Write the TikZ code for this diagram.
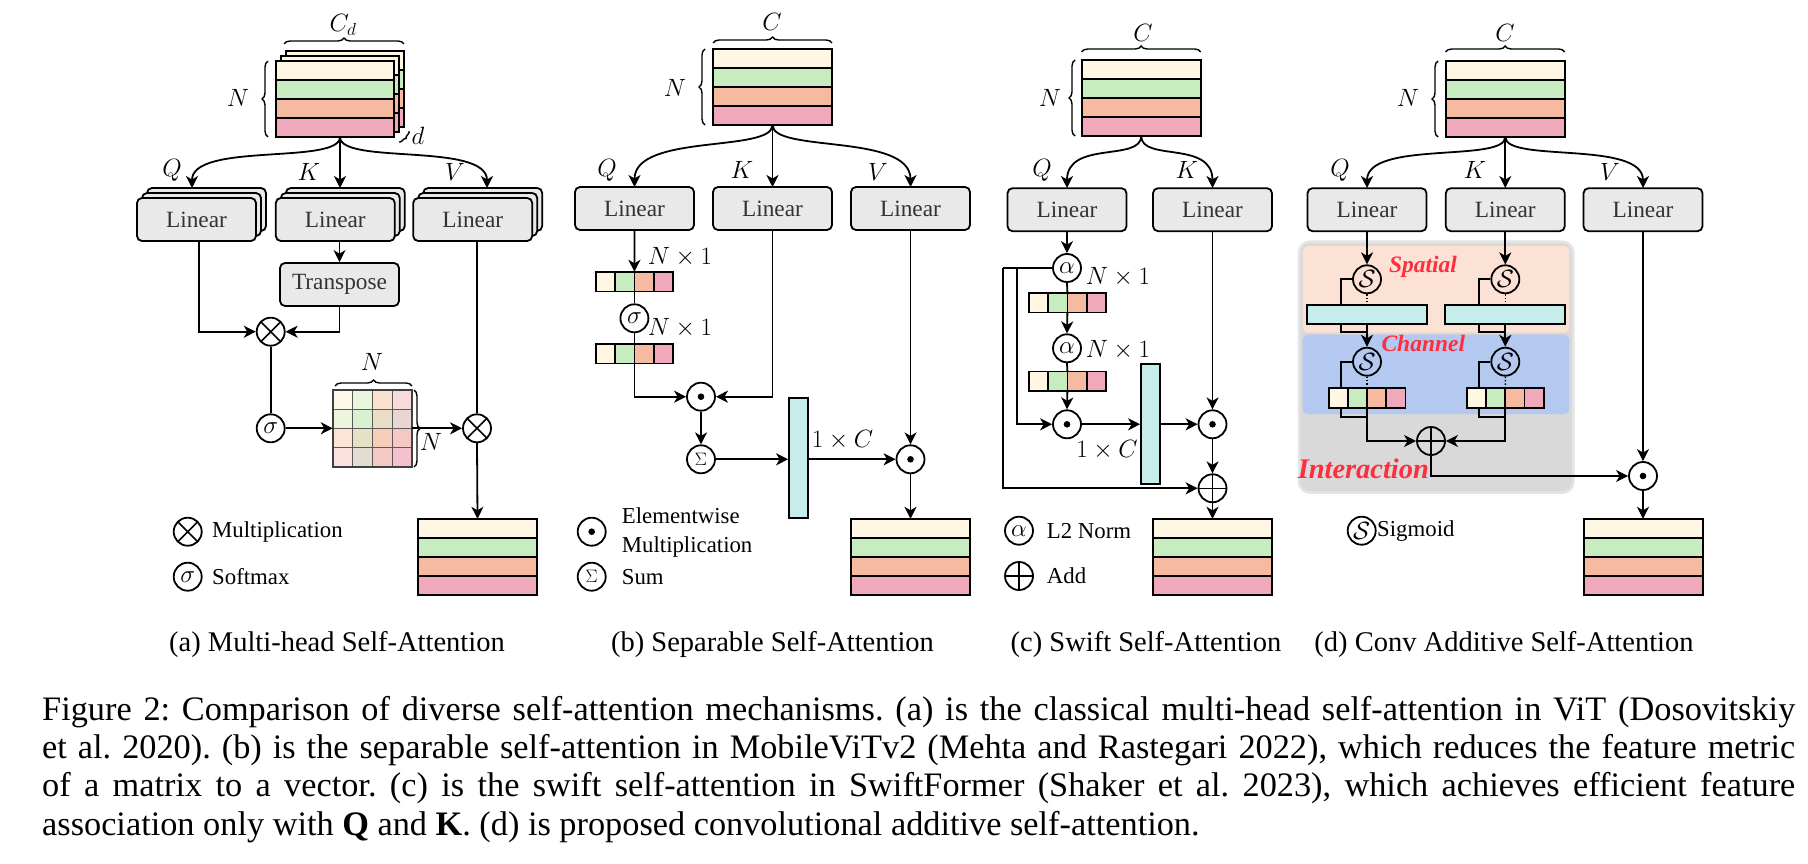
\RequirePackage{fix-cm}
\documentclass[tikz,border=0pt]{standalone}
\usepackage{fontspec}
\setmainfont{Liberation Serif}
\usetikzlibrary{arrows.meta,decorations.pathreplacing,calc}
\definecolor{rowA}{HTML}{FFF6E3}
\definecolor{rowB}{HTML}{C7ECC0}
\definecolor{rowC}{HTML}{F5BA9F}
\definecolor{rowD}{HTML}{EFA9BB}
\definecolor{barcyan}{HTML}{C6ECEB}
\definecolor{boxgray}{HTML}{E9E9E9}
\definecolor{spbg}{HTML}{FCE1D5}
\definecolor{chbg}{HTML}{B4C9F0}
\definecolor{inbg}{HTML}{D9D9D9}
\definecolor{inedge}{HTML}{E4E4E4}
\definecolor{labred}{HTML}{FF2E3E}
\newcommand\lbxfont{\fontsize{23.3}{28}\selectfont}
\newcommand\mathlbl{\fontsize{25}{30}\selectfont}
\newcommand\lgdfont{\fontsize{22.8}{28.7}\selectfont}
\newcommand\subcapfont{\fontsize{28.5}{34}\selectfont}
\newcommand\capfont{\fontsize{34.3}{38}\selectfont\frenchspacing}
\newcommand\redfont{\fontsize{23.5}{28}\selectfont\bfseries\itshape}
\newcommand\redbigfont{\fontsize{28.4}{34}\selectfont\bfseries\itshape}
\newcommand\fstack[4]{%
  \foreach \cc [count=\ii from 0] in {rowA,rowB,rowC,rowD}
    \filldraw[fill=\cc,line width=2pt] (#2,#3+19*\ii) rectangle ++(#4,19);
  \node[inner sep=0pt,minimum width=#4pt,minimum height=76pt] (#1) at (#2+#4/2,#3+38) {};
}
\newcommand\fvec[3]{%
  \foreach \cc [count=\ii from 0] in {rowA,rowB,rowC,rowD}
    \filldraw[fill=\cc,line width=1.8pt] (#2+19.2*\ii,#3) rectangle ++(19.2,19.5);
  \node[inner sep=0pt,minimum width=76.8pt,minimum height=19.5pt] (#1) at (#2+38.4,#3+9.75) {};
}
\begin{document}
\begin{tikzpicture}[x=1pt,y=-1pt,
  ln/.style={line width=1.8pt},
  arr/.style={line width=1.8pt,-{Stealth[length=12pt,width=12pt,inset=3.5pt]}},
  lbox/.style={draw,line width=1.8pt,rounded corners=5pt,fill=boxgray,minimum width=119pt,minimum height=43pt,inner sep=0pt,font=\lbxfont,text=black!80},
  op/.style={circle,draw,line width=1.8pt,minimum size=28pt,inner sep=0pt,font=\mathlbl},
  mulop/.style={op,path picture={\draw[line width=1.6pt] (path picture bounding box.north west) -- (path picture bounding box.south east) (path picture bounding box.north east) -- (path picture bounding box.south west);}},
  addop/.style={op,path picture={\draw[line width=1.6pt] (path picture bounding box.north) -- (path picture bounding box.south) (path picture bounding box.west) -- (path picture bounding box.east);}},
  dotop/.style={op,path picture={\fill (path picture bounding box.center) circle (3.3pt);}},
  brc/.style={decorate,decoration={brace,amplitude=6pt},line width=1.4pt},
  ml/.style={font=\mathlbl,inner sep=0pt},
  lg/.style={font=\lgdfont,inner sep=0pt,anchor=west},
  bar/.style={draw,line width=1.8pt,fill=barcyan,inner sep=0pt},
  dotl/.style={line width=1.4pt,dotted},
  redl/.style={text=labred,font=\redfont,inner sep=0pt},
]
\useasboundingbox (0,0) rectangle (1808,864);
\fill[white] (0,0) rectangle (1808,864);

%%%%%%%%%%%%%%%% (a) %%%%%%%%%%%%%%%%
\fstack{sa3}{285.7}{51}{118.3}
\fstack{sa2}{280.7}{56}{118.3}
\fstack{sa}{275.7}{61}{118.3}
\draw[brc] (284,44) -- (404,44);
\node[ml] (cda) at (343,25) {$C_d$};
\draw[brc] (268,137) -- (268,61);
\node[ml] (na) at (238,98) {$N$};
\draw[brc,decoration={brace,amplitude=3pt}] (409,131) -- (399,142);
\node[ml] (da) at (418,136) {$d$};
\coordinate (spa) at (340,137);
\coordinate (qat) at (192,188);
\coordinate (kat) at (340,188);
\coordinate (vat) at (487,188);
\draw[arr] (spa) .. controls (340,165) and (192,142) .. (qat);
\draw[arr] (spa) -- (kat);
\draw[arr] (spa) .. controls (340,165) and (487,142) .. (vat);
\node[ml] (qla) at (172,170) {$Q$};
\node[ml] (kla) at (309,172) {$K$};
\node[ml] (vla) at (455,172) {$V$};
\node[lbox] (qa2) at (206.5,209.5) {};
\node[lbox] (qa1) at (201.5,214.5) {};
\node[lbox] (qa) at (196.5,219.5) {Linear};
\node[lbox] (ka2) at (345.3,209.5) {};
\node[lbox] (ka1) at (340.3,214.5) {};
\node[lbox] (ka) at (335.3,219.5) {Linear};
\node[lbox] (va2) at (482.7,209.5) {};
\node[lbox] (va1) at (477.7,214.5) {};
\node[lbox] (va) at (472.7,219.5) {Linear};
\node[lbox] (tra) at (339.5,284.5) {Transpose};
\draw[arr] (tra.north |- ka.south) -- (tra.north);
\node[mulop] (mula) at (270.7,331.7) {};
\draw[arr] ([xshift=2.5pt]qa.south) |- (mula.west);
\draw[arr] (tra.south) |- (mula.east);
\node[op] (sma) at (270.7,428.3) {$\sigma$};
\draw[ln] (mula.south) -- (sma.north);
% attention matrix
\foreach \r/\rc in {0/rowA,1/rowB,2/rowC,3/rowD}
  \foreach \c/\cc in {0/rowA,1/rowB,2/rowC,3/rowD}
    \fill[\cc!55!\rc!72!white] (333+19.75*\c,390+19.25*\r) rectangle ++(19.75,19.25);
\foreach \k in {1,2,3} {
  \draw[black!65,line width=1.3pt] (333+19.75*\k,390) -- ++(0,77);
  \draw[black!65,line width=1.3pt] (333,390+19.25*\k) -- ++(79,0);
}
\draw[black!75,line width=1.6pt] (333,390) rectangle (412,467);
\node[inner sep=0pt,minimum width=79pt,minimum height=77pt] (mat) at (372.5,428.5) {};
\draw[brc] (335,386) -- (412,386);
\node[ml] (nma) at (372,362) {$N$};
\draw[brc] (414,390) -- (414,467);
\node[ml] (nmb) at (431,442) {$N$};
\draw[arr] (sma.east) -- (sma.east -| mat.west);
\node[mulop] (mulb) at (477,428.3) {};
\draw[arr] (mulb.west -| mat.east) -- (mulb.west);
\draw[ln] (mulb.north |- va.south) -- (mulb.north);
\fstack{oa}{418}{519}{119}
\draw[arr] (mulb.south) -- (oa.north);
\node[mulop] (lgma) at (187.7,531.7) {};
\node[lg] (lgmat) at (212,531.7) {Multiplication};
\node[op] (lgsa) at (187.7,576.7) {$\sigma$};
\node[lg] (lgsat) at (212,576.7) {Softmax};

%%%%%%%%%%%%%%%% (b) %%%%%%%%%%%%%%%%
\fstack{sb}{713}{49}{119}
\draw[brc] (713,43) -- (832,43);
\node[ml] (cb) at (772,22) {$C$};
\draw[brc] (705,125) -- (705,49);
\node[ml] (nb) at (675,88) {$N$};
\coordinate (spb) at (772.5,125);
\coordinate (qbt) at (634.5,187);
\coordinate (kbt) at (772.5,187);
\coordinate (vbt) at (910.5,187);
\draw[arr] (spb) .. controls (772.5,153) and (634.5,133) .. (qbt);
\draw[arr] (spb) -- (kbt);
\draw[arr] (spb) .. controls (772.5,153) and (910.5,133) .. (vbt);
\node[ml] (qlb) at (607,170) {$Q$};
\node[ml] (klb) at (742,170) {$K$};
\node[ml] (vlb) at (878,172) {$V$};
\node[lbox] (qb) at (634.5,208.5) {Linear};
\node[lbox] (kb) at (772.5,208.5) {Linear};
\node[lbox] (vb) at (910.5,208.5) {Linear};
\fvec{vb1}{596}{272}
\draw[arr] (qb.south) -- (vb1.north);
\node[ml] (nb1) at (680,257) {$N\times 1$};
\node[op] (smb) at (634.4,318.3) {$\sigma$};
\draw[ln] (vb1.south) -- (smb.north);
\node[ml] (nb2) at (680,328) {$N\times 1$};
\fvec{vb2}{596}{344}
\draw[ln] (smb.south) -- (vb2.north);
\node[dotop] (emb1) at (701,396.7) {};
\draw[arr] (vb2.south) |- (emb1.west);
\draw[arr] (kb.south) |- (emb1.east);
\node[op] (sumb) at (701,459.3) {\fontsize{18}{20}\selectfont$\Sigma$};
\draw[arr] (emb1.south) -- (sumb.north);
\node[bar,minimum width=19pt,minimum height=120pt] (barb) at (798.5,458) {};
\draw[arr] (sumb.east) -- (sumb.east -| barb.west);
\node[ml] (ocb) at (842.5,440) {$1\times C$};
\node[dotop] (emb2) at (910.5,459.3) {};
\draw[arr] (emb2.west -| barb.east) -- (emb2.west);
\draw[arr] (vb.south) -- (emb2.north);
\fstack{ob}{851}{519}{119}
\draw[arr] (emb2.south) -- (ob.north);
\node[dotop] (lgeb) at (591.7,531.7) {};
\node[lg,align=left] (lgebt) at (621.7,532.5) {Elementwise\\Multiplication};
\node[op] (lgsb) at (591.7,576.7) {\fontsize{18}{20}\selectfont$\Sigma$};
\node[lg] (lgsbt) at (621.7,576.7) {Sum};

%%%%%%%%%%%%%%%% (c) %%%%%%%%%%%%%%%%
\fstack{sc}{1081.7}{60}{119}
\draw[brc] (1081.7,52) -- (1200.7,52);
\node[ml] (cc) at (1143,33) {$C$};
\draw[brc] (1075,136) -- (1075,60);
\node[ml] (nc) at (1050,98) {$N$};
\coordinate (spc) at (1141.2,136);
\coordinate (qct) at (1067,188);
\coordinate (kct) at (1212.5,188);
\draw[arr] (spc) .. controls (1141.2,162) and (1067,140) .. (qct);
\draw[arr] (spc) .. controls (1141.2,162) and (1212.5,140) .. (kct);
\node[ml] (qlc) at (1042,170) {$Q$};
\node[ml] (klc) at (1187,170) {$K$};
\node[lbox] (qc) at (1067,209.7) {Linear};
\node[lbox] (kc) at (1212.5,209.7) {Linear};
\node[op] (alc1) at (1067,268) {$\alpha$};
\draw[arr] (qc.south) -- (alc1.north);
\node[ml] (nc1) at (1118,277) {$N\times 1$};
\fvec{vc1}{1029}{293}
\draw[ln] (alc1.south) -- (vc1.north);
\node[op] (alc2) at (1067,348.3) {$\alpha$};
\draw[arr] (vc1.south) -- (alc2.north);
\node[ml] (nc2) at (1118,350) {$N\times 1$};
\fvec{vc2}{1029}{371.5}
\draw[ln] (alc2.south) -- (vc2.north);
\node[dotop] (emc1) at (1067,424.3) {};
\draw[arr] (vc2.south) -- (emc1.north);
\node[bar,minimum width=19pt,minimum height=120pt] (barc) at (1150.5,424) {};
\draw[arr] (emc1.east) -- (emc1.east -| barc.west);
\node[ml] (occ) at (1107,450) {$1\times C$};
\node[dotop] (emc2) at (1212.5,424.3) {};
\draw[arr] (emc2.west -| barc.east) -- (emc2.west);
\draw[arr] (kc.south) -- (emc2.north);
\node[addop] (addc) at (1212.5,488.3) {};
\draw[arr] (emc2.south) -- (addc.north);
\coordinate (skc1) at (1002.7,268);
\coordinate (skc2) at (1016.7,268);
\draw[ln] (alc1.west) -- (skc1);
\draw[arr] (skc1) |- (addc.west);
\draw[arr] (skc2) |- (emc1.west);
\fstack{oc}{1153}{519}{119}
\draw[arr] (addc.south) -- (oc.north);
\node[op] (lgac) at (1019,530.7) {$\alpha$};
\node[lg] (lgact) at (1046.7,530.7) {L2 Norm};
\node[addop] (lgpc) at (1019,576) {};
\node[lg] (lgpct) at (1046.7,576) {Add};

%%%%%%%%%%%%%%%% (d) %%%%%%%%%%%%%%%%
\fstack{sd}{1445.7}{61}{119}
\draw[brc] (1445.7,52) -- (1564.7,52);
\node[ml] (cdd) at (1505,33) {$C$};
\draw[brc] (1438,137) -- (1438,61);
\node[ml] (nd) at (1408,98) {$N$};
\coordinate (spd) at (1505.3,137);
\coordinate (qdt) at (1367,188);
\coordinate (kdt) at (1505.3,188);
\coordinate (vdt) at (1643,188);
\draw[arr] (spd) .. controls (1505.3,163) and (1367,140) .. (qdt);
\draw[arr] (spd) -- (kdt);
\draw[arr] (spd) .. controls (1505.3,163) and (1643,140) .. (vdt);
\node[ml] (qld) at (1340,170) {$Q$};
\node[ml] (kld) at (1475,170) {$K$};
\node[ml] (vld) at (1610,172) {$V$};
\node[lbox] (qd) at (1367,209.7) {Linear};
\node[lbox] (kd) at (1505.3,209.7) {Linear};
\node[lbox] (vd) at (1643,209.7) {Linear};
% backgrounds
\filldraw[fill=inbg,draw=inedge,line width=2.5pt,rounded corners=11pt] (1299,241.7) rectangle (1573.3,492.7);
\fill[spbg,rounded corners=6pt] (1302.7,246) rectangle (1569.3,332.7);
\fill[chbg,rounded corners=5pt] (1302.7,334.5) rectangle (1569.3,414);
% spatial
\node[op] (sd1) at (1367,279.3) {$\mathcal{S}$};
\node[op] (sd2) at (1505.3,279.3) {$\mathcal{S}$};
\draw[arr] (qd.south) -- (sd1.north);
\draw[arr] (kd.south) -- (sd2.north);
\node[redl] (spl) at (1423,266.7) {Spatial};
\node[bar,minimum width=120pt,minimum height=19pt] (sb1) at (1367,314.5) {};
\node[bar,minimum width=120pt,minimum height=19pt] (sb2) at (1505.3,314.5) {};
\draw[ln] (sd1.west) -| ([xshift=-26.3pt]sb1.north);
\draw[ln] (sd2.west) -| ([xshift=-26.3pt]sb2.north);
\draw[dotl] (sd1.south) -- (sb1.north);
\draw[dotl] (sd2.south) -- (sb2.north);
\draw[ln] ([xshift=-26.3pt]sb1.south) |- ([yshift=-6.7pt]sb1.south);
\draw[ln] ([xshift=-26.3pt]sb2.south) |- ([yshift=-6.7pt]sb2.south);
% channel
\node[op] (sd3) at (1367,361.7) {$\mathcal{S}$};
\node[op] (sd4) at (1505.3,361.7) {$\mathcal{S}$};
\draw[arr] (sb1.south) -- (sd3.north);
\draw[arr] (sb2.south) -- (sd4.north);
\node[redl] (chl) at (1423.3,343.3) {Channel};
\fvec{cv1}{1328.6}{388.3}
\fvec{cv2}{1466.9}{388.3}
\draw[ln] (sd3.west) -| ([xshift=-26.3pt]cv1.north);
\draw[ln] (sd4.west) -| ([xshift=-26.3pt]cv2.north);
\draw[dotl] (sd3.south) -- (cv1.north);
\draw[dotl] (sd4.south) -- (cv2.north);
\draw[ln] ([xshift=-26.3pt]cv1.south) |- ([yshift=-9pt]cv1.south);
\draw[ln] ([xshift=-26.3pt]cv2.south) |- ([yshift=-9pt]cv2.south);
% interaction
\node[addop] (addd) at (1431,441) {};
\draw[arr] (cv1.south) |- (addd.west);
\draw[arr] (cv2.south) |- (addd.east);
\node[text=labred,font=\redbigfont,inner sep=0pt] (inl) at (1363.3,468.3) {Interaction};
\node[dotop] (emd) at (1643,476) {};
\draw[arr] (addd.south) |- (emd.west);
\draw[arr] (vd.south) -- (emd.north);
\fstack{od}{1583.5}{519}{119}
\draw[arr] (emd.south) -- (od.north);
\node[op] (lgsd) at (1361.7,530.7) {$\mathcal{S}$};
\node[lg] (lgsdt) at (1377,530.7) {Sigmoid};

%%%%%%%%%%%%%%%% captions %%%%%%%%%%%%%%%%
\node[anchor=base,font=\subcapfont,inner sep=0pt] (capa) at (337,651.7) {(a) Multi-head Self-Attention};
\node[anchor=base,font=\subcapfont,inner sep=0pt] (capb) at (772.5,651.7) {(b) Separable Self-Attention};
\node[anchor=base,font=\subcapfont,inner sep=0pt] (capc) at (1146,651.7) {(c) Swift Self-Attention};
\node[anchor=base,font=\subcapfont,inner sep=0pt] (capd) at (1504,651.7) {(d) Conv Additive Self-Attention};
\node[anchor=base west,font=\capfont,inner sep=0pt] (cap1) at (42,720.5) {\makebox[1753pt][s]{Figure 2: Comparison of diverse self-attention mechanisms. (a) is the classical multi-head self-attention in ViT (Dosovitskiy}};
\node[anchor=base west,font=\capfont,inner sep=0pt] (cap2) at (42,758.7) {\makebox[1753pt][s]{et al. 2020). (b) is the separable self-attention in MobileViTv2 (Mehta and Rastegari 2022), which reduces the feature metric}};
\node[anchor=base west,font=\capfont,inner sep=0pt] (cap3) at (42,796.9) {\makebox[1753pt][s]{of a matrix to a vector. (c) is the swift self-attention in SwiftFormer (Shaker et al. 2023), which achieves efficient feature}};
\node[anchor=base west,font=\capfont,inner sep=0pt] (cap4) at (42,835) {association only with \textbf{Q} and \textbf{K}. (d) is proposed convolutional additive self-attention.};
\end{tikzpicture}
\end{document}
